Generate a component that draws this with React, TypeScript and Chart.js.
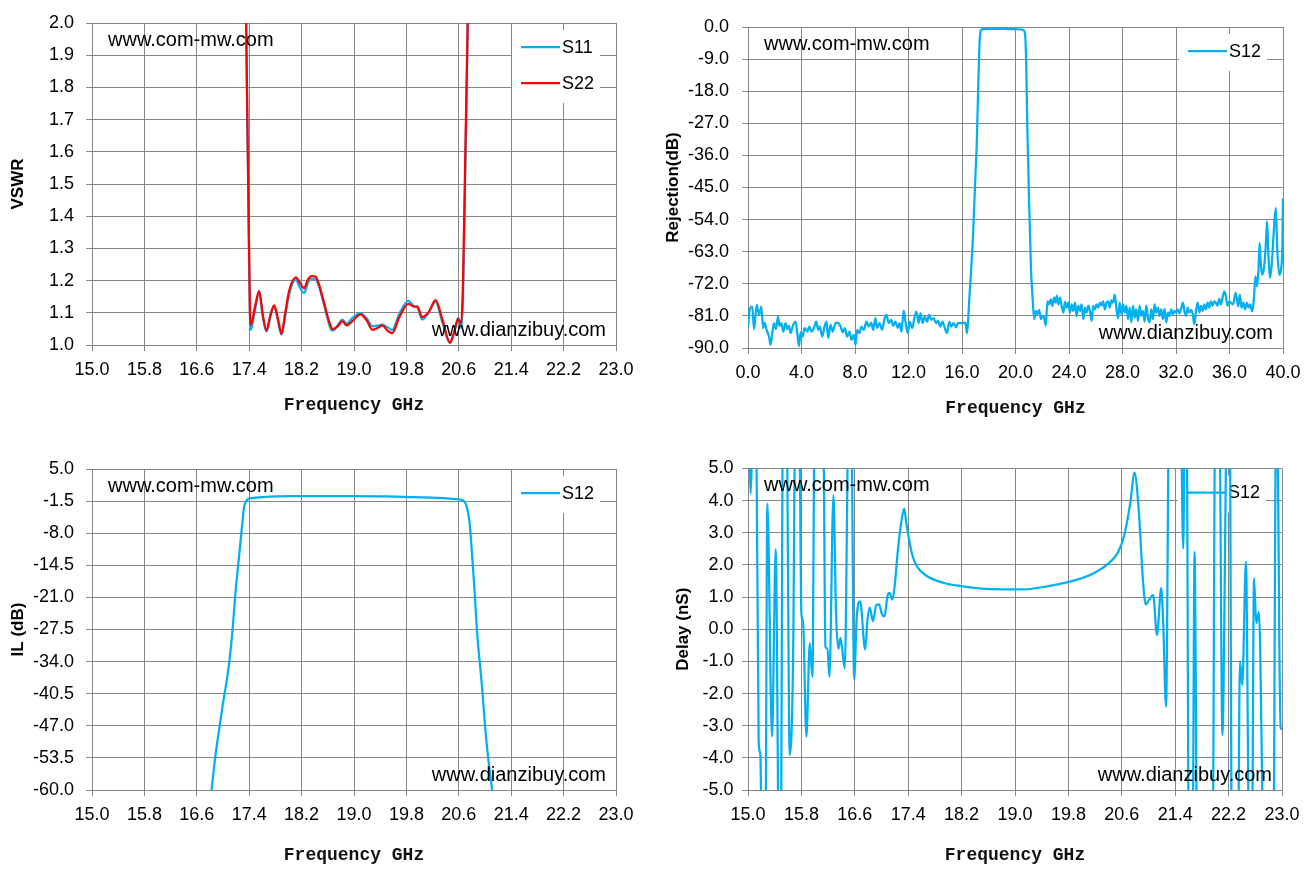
import { useEffect, useRef } from "react";
import { Chart, registerables } from "chart.js";

Chart.register(...registerables);

// ---- top-left: VSWR ----
const vswrFreq = [
  17.3, 17.35, 17.385, 17.41, 17.425, 17.49, 17.552, 17.61, 17.664, 17.72,
  17.781, 17.84, 17.893, 17.95, 18.01, 18.111, 18.17, 18.238, 18.3, 18.355,
  18.416, 18.47, 18.528, 18.645, 18.68, 18.75, 18.823, 18.889, 18.975, 19.1,
  19.2, 19.28, 19.38, 19.43, 19.51, 19.585, 19.687, 19.83, 19.915, 19.966,
  20.04, 20.14, 20.245, 20.35, 20.464, 20.53, 20.59, 20.637, 20.665, 20.7,
  20.74, 20.8,
];
const s11Vswr = [
  3.0, 2.05, 1.5, 1.1, 1.047, 1.11, 1.165, 1.085, 1.042, 1.085,
  1.121, 1.075, 1.032, 1.09, 1.158, 1.203, 1.18, 1.161, 1.195, 1.205,
  1.204, 1.18, 1.137, 1.05, 1.045, 1.06, 1.079, 1.066, 1.084, 1.098,
  1.081, 1.058, 1.061, 1.063, 1.055, 1.047, 1.095, 1.137, 1.121, 1.118,
  1.079, 1.1, 1.134, 1.07, 1.007, 1.04, 1.084, 1.053, 1.15, 1.55,
  2.05, 3.0,
];
const s22Vswr = [
  3.0, 2.05, 1.5, 1.12, 1.063, 1.12, 1.168, 1.09, 1.045, 1.09,
  1.123, 1.08, 1.035, 1.1, 1.168, 1.21, 1.195, 1.176, 1.205, 1.214,
  1.212, 1.185, 1.142, 1.058, 1.049, 1.058, 1.074, 1.061, 1.074, 1.095,
  1.074, 1.047, 1.055, 1.061, 1.045, 1.037, 1.084, 1.128, 1.119, 1.119,
  1.087, 1.102, 1.139, 1.079, 1.007, 1.04, 1.081, 1.066, 1.2, 1.6,
  2.05, 3.0,
];

// ---- top-right: rejection 0-40 GHz ----
const rejFreq = [
  0.0, 0.15, 0.32, 0.45, 0.65, 0.82, 1.0, 1.12, 1.24, 1.39,
  1.57, 1.69, 1.82, 1.94, 2.09, 2.24, 2.36, 2.49, 2.64, 2.81,
  2.94, 3.06, 3.18, 3.38, 3.56, 3.68, 3.81, 3.93, 4.08, 4.23,
  4.43, 4.58, 4.75, 4.93, 5.1, 5.25, 5.37, 5.55, 5.72, 5.87,
  6.0, 6.17, 6.34, 6.54, 6.72, 6.92, 7.09, 7.24, 7.41, 7.59,
  7.74, 7.91, 8.04, 8.16, 8.33, 8.48, 8.66, 8.86, 9.03, 9.21,
  9.36, 9.53, 9.65, 9.83, 10.03, 10.2, 10.35, 10.52, 10.7, 10.85,
  11.02, 11.2, 11.34, 11.47, 11.64, 11.79, 11.94, 12.09, 12.27, 12.44,
  12.59, 12.76, 12.89, 13.06, 13.21, 13.39, 13.53, 13.71, 13.88, 14.06,
  14.21, 14.38, 14.53, 14.71, 14.88, 15.05, 15.2, 15.38, 15.55, 15.7,
  15.87, 16.04, 16.25, 16.37, 16.45,
  16.55, 16.7, 16.83, 17.0, 17.1, 17.19, 17.29, 17.37, 17.45, 17.6,
  18.0, 18.5, 19.0, 19.5, 20.0, 20.4, 20.6, 20.7, 20.76, 20.8,
  20.88, 20.95, 21.01, 21.1, 21.16, 21.27,
  21.4, 21.52, 21.64, 21.77, 21.89, 22.02, 22.14, 22.26, 22.39, 22.51,
  22.64, 22.76, 22.88, 23.01, 23.08, 23.21, 23.33, 23.45, 23.58, 23.7,
  23.83, 23.95, 24.07, 24.2, 24.32, 24.45, 24.57, 24.69, 24.82, 24.94,
  25.07, 25.19, 25.31, 25.44, 25.56, 25.69, 25.81, 25.93, 26.06, 26.18,
  26.31, 26.43, 26.55, 26.68, 26.8, 26.93, 27.05, 27.17, 27.3, 27.42,
  27.55, 27.67, 27.79, 27.92, 28.04, 28.17, 28.29, 28.41, 28.54, 28.66,
  28.79, 28.91, 29.03, 29.16, 29.28, 29.41, 29.53, 29.65, 29.78, 29.9,
  30.03, 30.15, 30.27, 30.4, 30.52, 30.65, 30.77, 30.89, 31.02, 31.14,
  31.27, 31.39, 31.51, 31.64, 31.76, 31.89, 32.01, 32.13, 32.26, 32.38,
  32.51, 32.63, 32.75, 32.88, 33.0, 33.13, 33.25, 33.37, 33.5, 33.62,
  33.75, 33.87, 33.99, 34.12, 34.24, 34.37, 34.49, 34.61, 34.74, 34.86,
  34.99, 35.11, 35.23, 35.36, 35.48, 35.6, 35.73, 35.85, 35.98,
  36.26, 36.46, 36.65, 36.77, 36.9, 37.03, 37.16, 37.29, 37.42, 37.55,
  37.68, 37.81, 37.94, 38.06, 38.17, 38.25, 38.33, 38.45, 38.6, 38.73,
  38.81, 38.9, 39.04, 39.17, 39.3, 39.46, 39.58, 39.72, 39.85, 39.95, 40.0,
];
const rejS12 = [
  -84.0, -78.9, -78.4, -84.7, -77.9, -80.7, -78.4, -84.4, -82.9, -84.9,
  -86.8, -89.1, -85.8, -83.0, -84.7, -81.2, -83.8, -83.0, -85.4, -83.0,
  -84.7, -83.8, -85.8, -83.5, -82.6, -85.8, -89.5, -85.6, -86.8, -84.4,
  -85.4, -84.0, -85.4, -84.4, -82.6, -84.9, -84.0, -86.8, -84.0, -82.6,
  -87.2, -83.5, -85.4, -83.0, -82.9, -84.0, -85.6, -84.4, -86.8, -85.4,
  -87.7, -86.3, -89.1, -84.9, -85.8, -84.0, -84.9, -82.6, -84.0, -82.9,
  -84.9, -81.6, -84.4, -83.0, -84.9, -81.9, -80.7, -83.0, -82.1, -83.8,
  -82.6, -84.4, -83.0, -85.4, -79.5, -83.0, -85.8, -82.6, -84.4, -81.6,
  -79.8, -83.0, -80.3, -83.0, -81.2, -82.6, -80.7, -82.1, -81.6, -83.0,
  -82.3, -84.0, -82.6, -84.4, -85.8, -82.6, -84.0, -83.0, -84.2, -83.0,
  -83.0, -83.0, -82.9, -85.8, -82.6,
  -76.0, -67.0, -58.0, -42.0, -33.0, -20.0, -6.6, -1.5, -0.8, -0.6,
  -0.5, -0.5, -0.5, -0.6, -0.6, -0.7, -0.9, -1.6, -5.0, -10.0,
  -28.0, -38.0, -48.0, -60.0, -68.0, -75.5,
  -81.9, -79.6, -80.5, -79.3, -81.9, -81.0, -81.5, -83.7, -76.9, -77.8,
  -76.4, -78.2, -75.9, -77.3, -75.3, -77.8, -75.9, -78.2, -80.1, -77.1,
  -78.7, -77.3, -80.1, -77.8, -79.6, -77.3, -81.0, -78.2, -79.6, -77.8,
  -81.9, -78.7, -80.1, -78.1, -79.6, -82.4, -78.2, -79.2, -77.8, -78.7,
  -77.3, -78.1, -76.9, -79.2, -77.3, -76.9, -78.7, -76.6, -77.3, -75.0,
  -79.2, -81.7, -77.3, -80.5, -77.8, -80.1, -78.2, -81.9, -78.7, -82.8,
  -78.1, -81.5, -79.2, -82.4, -78.2, -81.0, -79.6, -82.6, -78.1, -81.5,
  -82.8, -79.2, -81.9, -77.8, -80.1, -78.7, -81.0, -79.2, -81.9, -79.0,
  -82.8, -80.1, -81.0, -79.2, -80.5, -79.6, -80.1, -79.2, -80.3, -79.0,
  -77.3, -79.6, -81.0, -78.7, -80.1, -79.3, -80.5, -83.3, -79.6, -77.3,
  -80.1, -78.2, -79.6, -77.8, -79.2, -77.3, -78.7, -76.9, -78.2, -76.9,
  -77.3, -78.1, -76.2, -77.8, -75.9, -74.1, -75.5, -78.2, -76.9,
  -77.8, -74.5, -78.3, -75.0, -78.7, -77.3, -79.2, -77.3, -78.7, -77.8,
  -79.7, -76.9, -69.9, -72.7, -68.0, -60.5, -66.0, -69.5, -67.0, -60.0,
  -54.5, -63.0, -70.3, -66.0, -58.0, -50.7, -63.0, -69.5, -68.0, -62.0, -48.0,
];

// ---- bottom-left: insertion loss ----
const ilFreq = [
  16.826, 16.876, 16.94, 17.0, 17.05, 17.1, 17.15, 17.19, 17.24, 17.29,
  17.32, 17.37, 17.44, 17.6, 18.0, 18.5, 19.0, 19.5, 19.9, 20.3,
  20.54, 20.66, 20.71, 20.76, 20.79, 20.84, 20.88, 20.95, 21.01, 21.07, 21.11,
];
const ilS12 = [
  -60, -53.9, -47.8, -42.4, -38.4, -33.6, -26.9, -20.1, -13.4, -6.6,
  -2.9, -1.2, -0.9, -0.7, -0.5, -0.5, -0.5, -0.55, -0.7, -0.85,
  -1.1, -1.35, -2.2, -5.3, -10.0, -19.5, -28.2, -38.4, -48.5, -56, -60,
];

// ---- bottom-right: group delay (values outside +-5 run off the plot) ----
const delayFreq = [
  15.0, 15.02, 15.04, 15.06, 15.09, 15.125, 15.16, 15.185, 15.21, 15.26,
  15.29, 15.36, 15.415, 15.465, 15.49, 15.525, 15.575, 15.625, 15.675, 15.71,
  15.765, 15.8, 15.825, 15.875, 15.925, 15.965, 16.0, 16.125, 16.16, 16.19,
  16.22, 16.28, 16.32, 16.355, 16.385, 16.45, 16.51, 16.545, 16.59, 16.63,
  16.68, 16.755, 16.79, 16.826, 16.87, 16.92, 16.964, 17.008, 17.045, 17.089,
  17.12, 17.164, 17.202, 17.246, 17.296, 17.34, 17.371, 17.422, 17.466, 17.528,
  17.685, 17.936, 18.187, 18.501, 18.814, 19.128, 19.442, 19.693, 19.944, 20.194,
  20.383, 20.54, 20.634, 20.728, 20.79, 20.853, 20.916, 20.96, 21.01, 21.07,
  21.127, 21.19, 21.22, 21.263, 21.31, 21.48, 21.52, 21.546, 21.57, 21.605,
  21.66, 21.69, 21.73, 21.96, 22.0, 22.06, 22.107, 22.18, 22.215, 22.25,
  22.34, 22.37, 22.405, 22.46, 22.51, 22.55, 22.58, 22.615, 22.654, 22.73,
  22.87, 22.91, 22.94, 22.96, 22.98, 23.0,
];
const delayS12 = [
  6, 5.5, 4.22, 5.5, 7, 6, -3.5, -3.9, -7, -7,
  3.91, -3.34, 2.49, -7, -7, 7, 7, -3.91, -1.0, 7,
  7, 0.49, 0.23, -3.34, -0.44, -1.48, 7, 7, -0.54, -0.6,
  -1.48, 4.17, 0.4, -0.6, -0.27, -1.22, 7, 7, -1.55, 0.4,
  0.87, -0.63, 0.3, 0.67, 0.25, 0.74, 0.77, 0.46, 0.4, 1.03,
  1.13, 0.92, 1.44, 2.48, 3.32, 3.75, 3.32, 2.69, 2.28, 1.96,
  1.65, 1.44, 1.34, 1.26, 1.24, 1.24, 1.32, 1.42, 1.55, 1.76,
  2.02, 2.38, 2.9, 3.94, 4.88, 3.73, 1.55, 0.77, 0.92, 1.06,
  -0.18, 1.28, 0.2, -2.41, 7, 7, 2.51, 7, 7, -7,
  -7, 2.41, -7, -7, 7, 7, -3.29, 7, 7, -7,
  -7, -1.0, -1.74, 2.1, -7, -7, 1.58, 0.18, 0.54, -7,
  -7, 6, 4.88, -0.5, -3.08, -3.1,
];

const freqTitle = "Frequency GHz";
const siteTop = "www.com-mw.com";
const siteBottom = "www.dianzibuy.com";

const BLUE = "#00b0f0";
const RED = "#ff0000";
const GRID = "#868686";
const SANS = '"Liberation Sans", Arial, sans-serif';

const pts = (xs: number[], ys: number[]) => xs.map((x, i) => ({ x, y: ys[i] }));

const lineStyle = {
  borderWidth: 2.25,
  pointRadius: 0,
  fill: false,
  cubicInterpolationMode: "monotone",
};

// white legend box (under the traces, like the original) + watermarks on top
const overlay = {
  id: "overlay",
  beforeDatasetsDraw(chart: any) {
    const { ctx, chartArea: a } = chart;
    const sets = chart.data.datasets;
    const bw = 88;
    const rowH = 36;
    const bx = a.right - 16 - bw;
    const by = a.top + 7;
    ctx.save();
    ctx.fillStyle = "#fff";
    ctx.fillRect(bx, by, bw, sets.length * rowH + 1);
    ctx.font = "18px " + SANS;
    ctx.textAlign = "left";
    ctx.textBaseline = "middle";
    sets.forEach((ds: any, i: number) => {
      const y = by + 17 + i * rowH;
      ctx.strokeStyle = ds.borderColor;
      ctx.lineWidth = 2.25;
      ctx.beginPath();
      ctx.moveTo(bx + 9, y);
      ctx.lineTo(bx + 48, y);
      ctx.stroke();
      ctx.fillStyle = "#000";
      ctx.fillText(ds.label, bx + 50, y + 1);
    });
    ctx.restore();
  },
  afterDatasetsDraw(chart: any) {
    const { ctx, chartArea: a } = chart;
    ctx.save();
    ctx.font = "20px " + SANS;
    ctx.fillStyle = "#000";
    ctx.textBaseline = "middle";
    ctx.textAlign = "left";
    ctx.fillText(siteTop, a.left + 16, a.top + 17);
    ctx.textAlign = "right";
    ctx.fillText(siteBottom, a.right - 10, a.bottom - 15);
    ctx.restore();
  },
};

type Panel = {
  left: number;
  top: number;
  width: number;
  height: number;
  pad: { left: number; top: number; right: number; bottom: number };
  yWidth: number;
  xHeight: number;
  yTickPad: number;
  x: { min: number; max: number; step: number };
  y: { min: number; max: number; step: number; title: string };
  datasets: any[];
};

const panels: Panel[] = [
  {
    left: 0, top: 0, width: 657, height: 436,
    pad: { left: 8, top: 23, right: 41, bottom: 20 },
    yWidth: 84, xHeight: 71, yTickPad: 12,
    x: { min: 15, max: 23, step: 0.8 },
    y: { min: 1, max: 2, step: 0.1, title: "VSWR" },
    datasets: [
      { label: "S11", data: pts(vswrFreq, s11Vswr), borderColor: BLUE, order: 1, ...lineStyle },
      { label: "S22", data: pts(vswrFreq, s22Vswr), borderColor: RED, order: 0, ...lineStyle },
    ],
  },
  {
    left: 657, top: 0, width: 658, height: 436,
    pad: { left: 6, top: 27, right: 32, bottom: 17 },
    yWidth: 85, xHeight: 71, yTickPad: 13,
    x: { min: 0, max: 40, step: 4 },
    y: { min: -90, max: 0, step: 9, title: "Rejection(dB)" },
    datasets: [{ label: "S12", data: pts(rejFreq, rejS12), borderColor: BLUE, ...lineStyle }],
  },
  {
    left: 0, top: 436, width: 657, height: 437,
    pad: { left: 8.5, top: 33, right: 41, bottom: 7 },
    yWidth: 83.5, xHeight: 76, yTickPad: 12,
    x: { min: 15, max: 23, step: 0.8 },
    y: { min: -60, max: 5, step: 6.5, title: "IL (dB)" },
    datasets: [{ label: "S12", data: pts(ilFreq, ilS12), borderColor: BLUE, ...lineStyle }],
  },
  {
    left: 657, top: 436, width: 658, height: 437,
    pad: { left: 16, top: 32.5, right: 33, bottom: 7 },
    yWidth: 75, xHeight: 76, yTickPad: 8.5,
    x: { min: 15, max: 23, step: 0.8 },
    y: { min: -5, max: 5, step: 1, title: "Delay (nS)" },
    datasets: [{ label: "S12", data: pts(delayFreq, delayS12), borderColor: BLUE, ...lineStyle }],
  },
];

function PanelChart({ p }: { p: Panel }) {
  const canvasEl = useRef<HTMLCanvasElement>(null);

  useEffect(() => {
    const tickFont = { family: SANS, size: 18 };
    const chart = new Chart(canvasEl.current as HTMLCanvasElement, {
      type: "line",
      data: { datasets: p.datasets },
      options: {
        animation: false,
        responsive: true,
        maintainAspectRatio: false,
        layout: { padding: p.pad },
        plugins: { legend: { display: false }, tooltip: { enabled: false } },
        scales: {
          x: {
            type: "linear",
            min: p.x.min,
            max: p.x.max,
            ticks: {
              stepSize: p.x.step,
              autoSkip: false,
              maxRotation: 0,
              padding: 8,
              color: "#000",
              font: tickFont,
              callback: (v: any) => Number(v).toFixed(1),
            },
            grid: { color: GRID, tickLength: 6 },
            border: { color: GRID },
            title: {
              display: true,
              text: freqTitle,
              color: "#111",
              padding: 0,
              font: { family: '"Liberation Mono", monospace', size: 18, weight: "bold" },
            },
            afterFit: (s: any) => {
              s.height = p.xHeight;
            },
          },
          y: {
            type: "linear",
            min: p.y.min,
            max: p.y.max,
            ticks: {
              stepSize: p.y.step,
              padding: p.yTickPad,
              color: "#000",
              font: tickFont,
              callback: (v: any) => Number(v).toFixed(1),
            },
            grid: { color: GRID, tickLength: 6 },
            border: { color: GRID },
            title: {
              display: true,
              text: p.y.title,
              color: "#000",
              padding: 0,
              font: { family: SANS, size: 17, weight: "bold" },
            },
            afterFit: (s: any) => {
              s.width = p.yWidth;
            },
          },
        },
      } as any,
      plugins: [overlay],
    });
    return () => chart.destroy();
  }, [p]);

  return (
    <div style={{ position: "absolute", left: p.left, top: p.top, width: p.width, height: p.height }}>
      <canvas ref={canvasEl} />
    </div>
  );
}

export default function App() {
  return (
    <div style={{ position: "absolute", left: 0, top: 0, width: 1315, height: 873, background: "#fff" }}>
      {panels.map((p, i) => (
        <PanelChart key={i} p={p} />
      ))}
    </div>
  );
}
